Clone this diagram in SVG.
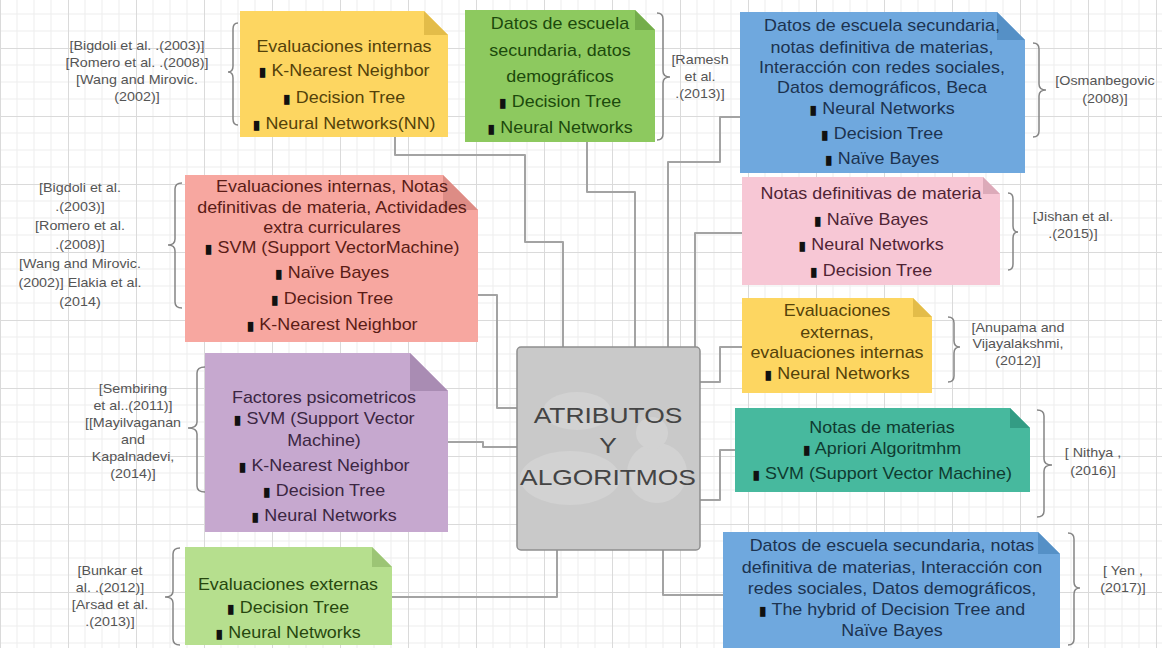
<svg xmlns="http://www.w3.org/2000/svg" width="1162" height="648" viewBox="0 0 1162 648">
<defs>
<pattern id="grid" width="68" height="68" patternUnits="userSpaceOnUse" x="0" y="48">
<path d="M17 0V68M34 0V68M51 0V68M0 17H68M0 34H68M0 51H68" stroke="#ededed" stroke-width="1" fill="none"/>
<path d="M0.5 0V68M0 0.5H68" stroke="#dadada" stroke-width="1" fill="none"/>
</pattern>
<style>
.nt{font-family:"Liberation Sans",Arial,sans-serif;font-size:16px;text-anchor:middle}
.b{font-family:"DejaVu Sans",sans-serif;font-size:13px;fill:#111}
.ref{font-family:"Liberation Sans",Arial,sans-serif;font-size:13px;fill:#555;text-anchor:middle}
.brace{fill:none;stroke:#858585;stroke-width:1.5}
.con{fill:none;stroke:#a3a3a3;stroke-width:2;stroke-linejoin:round}
.ct{font-family:"Liberation Sans",Arial,sans-serif;font-size:22px;fill:#444;text-anchor:middle}
</style>
</defs>
<rect width="1162" height="648" fill="#ffffff"/>
<rect width="1162" height="648" fill="url(#grid)"/>

<g id="connectors">
<path class="con" d="M395,137 V155 H525 V242 H563 V347"/>
<path class="con" d="M587,142 V192 H635 V347"/>
<path class="con" d="M740,117 H720 V162 H668 V347"/>
<path class="con" d="M742,233 H695 V347"/>
<path class="con" d="M478,295 H497 V408 H517"/>
<path class="con" d="M448,442 H483 V447 H517"/>
<path class="con" d="M742,347 H720 V382 H700"/>
<path class="con" d="M735,450 H720 V500 H700"/>
<path class="con" d="M392,597 H557 V550"/>
<path class="con" d="M723,595 H663 V550"/>
</g>

<g id="center">
<rect x="517" y="347" width="183" height="203" rx="4" fill="#c9c9c9" stroke="#8f8f8f" stroke-width="1.5"/>
<g fill="#d2d2d2">
<ellipse cx="577" cy="411" rx="34" ry="19"/>
<ellipse cx="570" cy="478" rx="50" ry="27"/>
<circle cx="657" cy="473" r="30"/>
<circle cx="652" cy="433" r="16"/>
</g>
<g transform="matrix(1.2 0 0 1 -121.6 0)">
<text class="ct" x="608" y="423">ATRIBUTOS</text>
<text class="ct" x="608" y="453">Y</text>
<text class="ct" x="608" y="485">ALGORITMOS</text>
</g>
</g>

<g id="n1">
<path d="M240,11 H424 L448,35 V137 H240 Z" fill="#fdd661"/>
<path d="M424,11 V35 H448 Z" fill="#e3bc49"/>
<g transform="matrix(1.12 0 0 1 -41.28 0)" fill="#54420a">
<text class="nt" x="344" y="52">Evaluaciones internas</text>
<text class="nt" x="344" y="76"><tspan class="b">▮</tspan> K-Nearest Neighbor</text>
<text class="nt" x="344" y="103"><tspan class="b">▮</tspan> Decision Tree</text>
<text class="nt" x="344" y="129"><tspan class="b">▮</tspan> Neural Networks(NN)</text>
</g>
</g>

<g id="n2">
<path d="M465,10 H635 L655,30 V142 H465 Z" fill="#8dc95f"/>
<path d="M635,10 V30 H655 Z" fill="#74ad4b"/>
<g transform="matrix(1.12 0 0 1 -67.2 0)" fill="#1c4a0c">
<text class="nt" x="560" y="29">Datos de escuela</text>
<text class="nt" x="560" y="56">secundaria, datos</text>
<text class="nt" x="560" y="82">demográficos</text>
<text class="nt" x="560" y="107"><tspan class="b">▮</tspan> Decision Tree</text>
<text class="nt" x="560" y="133"><tspan class="b">▮</tspan> Neural Networks</text>
</g>
</g>

<g id="n3">
<path d="M740,12 H997 L1025,40 V173 H740 Z" fill="#6fa8de"/>
<path d="M997,12 V40 H1025 Z" fill="#5590c6"/>
<g transform="matrix(1.12 0 0 1 -105.84 0)" fill="#1c3350">
<text class="nt" x="882" y="31">Datos de escuela secundaria,</text>
<text class="nt" x="882" y="53">notas definitiva  de materias,</text>
<text class="nt" x="882" y="73">Interacción con redes sociales,</text>
<text class="nt" x="882" y="93">Datos demográficos, Beca</text>
<text class="nt" x="882" y="114"><tspan class="b">▮</tspan> Neural Networks</text>
<text class="nt" x="882" y="139"><tspan class="b">▮</tspan> Decision Tree</text>
<text class="nt" x="882" y="164"><tspan class="b">▮</tspan> Naïve Bayes</text>
</g>
</g>

<g id="n4">
<path d="M185,175 H443 L478,210 V342 H185 Z" fill="#f7a7a0"/>
<path d="M443,175 V210 H478 Z" fill="#dd8c85"/>
<g transform="matrix(1.12 0 0 1 -39.84 0)" fill="#5a1c16">
<text class="nt" x="332" y="192">Evaluaciones internas, Notas</text>
<text class="nt" x="332" y="213">definitivas de materia, Actividades</text>
<text class="nt" x="332" y="233">extra curriculares</text>
<text class="nt" x="332" y="253"><tspan class="b">▮</tspan> SVM (Support VectorMachine)</text>
<text class="nt" x="332" y="278"><tspan class="b">▮</tspan> Naïve Bayes</text>
<text class="nt" x="332" y="304"><tspan class="b">▮</tspan> Decision Tree</text>
<text class="nt" x="332" y="330"><tspan class="b">▮</tspan> K-Nearest Neighbor</text>
</g>
</g>

<g id="n5">
<path d="M742,177 H983 L1000,194 V285 H742 Z" fill="#f7c7d5"/>
<path d="M983,177 V194 H1000 Z" fill="#dcaab9"/>
<g transform="matrix(1.12 0 0 1 -104.52 0)" fill="#4f2434">
<text class="nt" x="871" y="199">Notas definitivas de materia</text>
<text class="nt" x="871" y="225"><tspan class="b">▮</tspan> Naïve Bayes</text>
<text class="nt" x="871" y="250"><tspan class="b">▮</tspan> Neural Networks</text>
<text class="nt" x="871" y="276"><tspan class="b">▮</tspan> Decision Tree</text>
</g>
</g>

<g id="n6">
<path d="M205,353 H410 L448,391 V532 H205 Z" fill="#c6a8cf"/>
<path d="M410,353 V391 H448 Z" fill="#a98cb3"/>
<g transform="matrix(1.12 0 0 1 -38.88 0)" fill="#3b2642">
<text class="nt" x="324" y="403">Factores psicometricos</text>
<text class="nt" x="324" y="424"><tspan class="b">▮</tspan> SVM (Support Vector</text>
<text class="nt" x="324" y="446">Machine)</text>
<text class="nt" x="324" y="471"><tspan class="b">▮</tspan> K-Nearest Neighbor</text>
<text class="nt" x="324" y="496"><tspan class="b">▮</tspan> Decision Tree</text>
<text class="nt" x="324" y="521"><tspan class="b">▮</tspan> Neural Networks</text>
</g>
</g>

<g id="n7">
<path d="M742,298 H913 L932,317 V393 H742 Z" fill="#fdd661"/>
<path d="M913,298 V317 H932 Z" fill="#e3bc49"/>
<g transform="matrix(1.12 0 0 1 -100.44 0)" fill="#54420a">
<text class="nt" x="837" y="316">Evaluaciones</text>
<text class="nt" x="837" y="338">externas,</text>
<text class="nt" x="837" y="358">evaluaciones internas</text>
<text class="nt" x="837" y="379"><tspan class="b">▮</tspan> Neural Networks</text>
</g>
</g>

<g id="n8">
<path d="M735,408 H1010 L1030,428 V492 H735 Z" fill="#47b99e"/>
<path d="M1010,408 V428 H1030 Z" fill="#339c84"/>
<g transform="matrix(1.12 0 0 1 -105.84 0)" fill="#0f3b30">
<text class="nt" x="882" y="433">Notas de materias</text>
<text class="nt" x="882" y="454"><tspan class="b">▮</tspan> Apriori Algoritmhm</text>
<text class="nt" x="882" y="479"><tspan class="b">▮</tspan> SVM (Support Vector Machine)</text>
</g>
</g>

<g id="n9">
<path d="M185,547 H372 L392,567 V645 H185 Z" fill="#b6df8e"/>
<path d="M372,547 V567 H392 Z" fill="#9cc575"/>
<g transform="matrix(1.12 0 0 1 -34.56 0)" fill="#27470f">
<text class="nt" x="288" y="590">Evaluaciones externas</text>
<text class="nt" x="288" y="613"><tspan class="b">▮</tspan> Decision Tree</text>
<text class="nt" x="288" y="638"><tspan class="b">▮</tspan> Neural Networks</text>
</g>
</g>

<g id="n10">
<path d="M723,532 H1038 L1060,554 V648 H723 Z" fill="#6fa8de"/>
<path d="M1038,532 V554 H1060 Z" fill="#5590c6"/>
<g transform="matrix(1.12 0 0 1 -107.04 0)" fill="#1c3350">
<text class="nt" x="892" y="551">Datos de escuela secundaria, notas</text>
<text class="nt" x="892" y="573">definitiva  de materias, Interacción con</text>
<text class="nt" x="892" y="594">redes sociales, Datos demográficos,</text>
<text class="nt" x="892" y="615"><tspan class="b">▮</tspan> The hybrid of Decision Tree and</text>
<text class="nt" x="892" y="636">Naïve Bayes</text>
</g>
</g>

<g id="refs">
<path class="brace" d="M238,23 Q233,23 233,29 V66 Q233,72 228,72 Q233,72 233,78 V119 Q233,125 238,125"/>
<g transform="matrix(1.1 0 0 1 -13.7 0)">
<text class="ref" x="137" y="50">[Bigdoli et al. .(2003)]</text>
<text class="ref" x="137" y="67">[Romero et al. .(2008)]</text>
<text class="ref" x="137" y="84">[Wang and Mirovic.</text>
<text class="ref" x="137" y="101">(2002)]</text>
</g>

<path class="brace" d="M657,13 Q663,13 663,19 V71 Q663,77 670,77 Q663,77 663,83 V134 Q663,140 657,140"/>
<g transform="matrix(1.1 0 0 1 -70 0)">
<text class="ref" x="700" y="64">[Ramesh</text>
<text class="ref" x="700" y="81">et al.</text>
<text class="ref" x="700" y="98">.(2013)]</text>
</g>

<path class="brace" d="M1033,43 Q1039,43 1039,49 V84 Q1039,90 1046,90 Q1039,90 1039,96 V131 Q1039,137 1033,137"/>
<g transform="matrix(1.1 0 0 1 -110.5 0)">
<text class="ref" x="1105" y="85">[Osmanbegovic</text>
<text class="ref" x="1105" y="103">(2008)]</text>
</g>

<path class="brace" d="M182,183 Q175,183 175,189 V239 Q175,245 168,245 Q175,245 175,251 V302 Q175,308 182,308"/>
<g transform="matrix(1.1 0 0 1 -8 0)">
<text class="ref" x="80" y="192">[Bigdoli et al.</text>
<text class="ref" x="80" y="211">.(2003)]</text>
<text class="ref" x="80" y="230">[Romero et al.</text>
<text class="ref" x="80" y="249">.(2008)]</text>
<text class="ref" x="80" y="268">[Wang and Mirovic.</text>
<text class="ref" x="80" y="287">(2002)]  Elakia et al.</text>
<text class="ref" x="80" y="306">(2014)</text>
</g>

<path class="brace" d="M1008,193 Q1013,193 1013,199 V226 Q1013,232 1018,232 Q1013,232 1013,238 V264 Q1013,270 1008,270"/>
<g transform="matrix(1.1 0 0 1 -107.3 0)">
<text class="ref" x="1073" y="221">[Jishan et al.</text>
<text class="ref" x="1073" y="238">.(2015)]</text>
</g>

<path class="brace" d="M205,367 Q197,367 197,373 V422 Q197,428 188,428 Q197,428 197,434 V486 Q197,492 205,492"/>
<g transform="matrix(1.1 0 0 1 -13.3 0)">
<text class="ref" x="133" y="393">[Sembiring</text>
<text class="ref" x="133" y="410">et al..(2011)]</text>
<text class="ref" x="133" y="427">[[Mayilvaganan</text>
<text class="ref" x="133" y="444">and</text>
<text class="ref" x="133" y="461">Kapalnadevi,</text>
<text class="ref" x="133" y="478">(2014)]</text>
</g>

<path class="brace" d="M948,317 Q954,317 954,323 V341 Q954,347 960,347 Q954,347 954,353 V376 Q954,382 948,382"/>
<g transform="matrix(1.1 0 0 1 -101.8 0)">
<text class="ref" x="1018" y="332">[Anupama and</text>
<text class="ref" x="1018" y="348">Vijayalakshmi,</text>
<text class="ref" x="1018" y="365">(2012)]</text>
</g>

<path class="brace" d="M1037,410 Q1044,410 1044,416 V459 Q1044,465 1052,465 Q1044,465 1044,471 V511 Q1044,517 1037,517"/>
<g transform="matrix(1.1 0 0 1 -109.3 0)">
<text class="ref" x="1093" y="457">[ Nithya ,</text>
<text class="ref" x="1093" y="475">(2016)]</text>
</g>

<path class="brace" d="M180,548 Q173,548 173,554 V591 Q173,597 165,597 Q173,597 173,603 V639 Q173,645 180,645"/>
<g transform="matrix(1.1 0 0 1 -11 0)">
<text class="ref" x="110" y="575">[Bunkar et</text>
<text class="ref" x="110" y="592">al. .(2012)]</text>
<text class="ref" x="110" y="609">[Arsad et al.</text>
<text class="ref" x="110" y="626">.(2013)]</text>
</g>

<path class="brace" d="M1068,533 Q1074,533 1074,539 V582 Q1074,588 1080,588 Q1074,588 1074,594 V639 Q1074,645 1068,645"/>
<g transform="matrix(1.1 0 0 1 -112.3 0)">
<text class="ref" x="1123" y="575">[ Yen ,</text>
<text class="ref" x="1123" y="592">(2017)]</text>
</g>
</g>
</svg>
